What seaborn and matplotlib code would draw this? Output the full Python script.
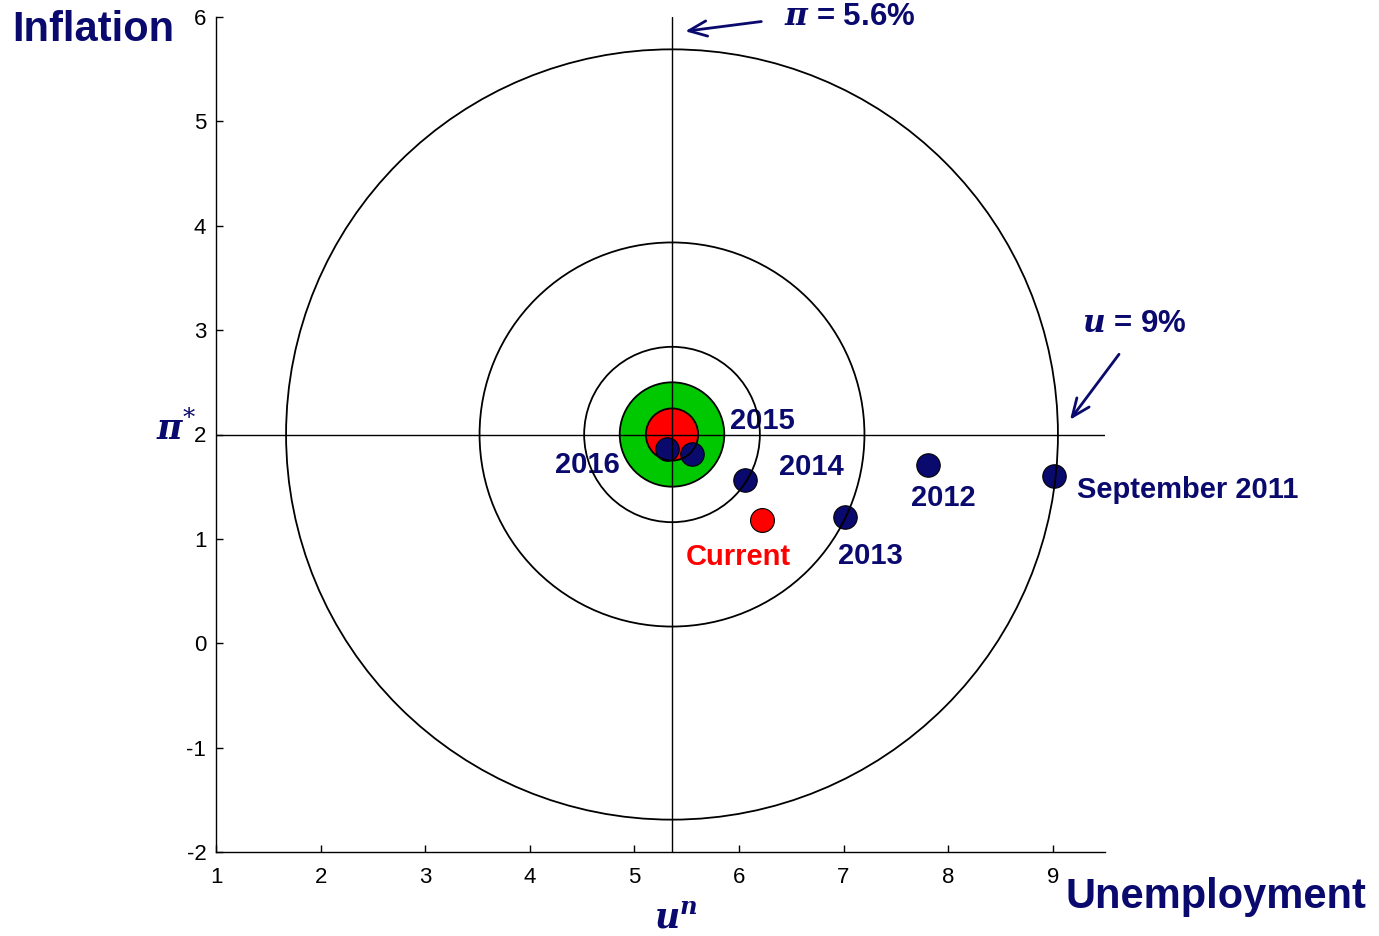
import matplotlib
matplotlib.use("Agg")
import matplotlib.pyplot as plt
from matplotlib.patches import Circle
import pandas as pd
import seaborn as sns

# target point: natural rate of unemployment and inflation target
U_STAR = 5.36
PI_STAR = 2.0

# black rings around the target, outer to inner
ring_radii = [3.69, 1.84, 0.84]
green_radius = 0.5
red_radius = 0.25

# projected path (unemployment %, inflation %)
years = ["September 2011", "2012", "2013", "2014", "2015", "2016"]
unemp = [9.01, 7.81, 7.01, 6.06, 5.55, 5.31]
infl = [1.60, 1.71, 1.21, 1.56, 1.81, 1.86]

# current reading
current_u = [6.22]
current_pi = [1.18]

x_ticks = [1, 2, 3, 4, 5, 6, 7, 8, 9]
y_ticks = [-2, -1, 0, 1, 2, 3, 4, 5, 6]

NAVY = "#0a0a6e"
GREEN = "#00c800"
RED = "#ff0000"

sns.set_style("ticks")
plt.rcParams["font.family"] = ["Liberation Sans", "DejaVu Sans"]
plt.rcParams["mathtext.fontset"] = "dejavuserif"
plt.rcParams["axes.unicode_minus"] = False

df = pd.DataFrame({"year": years, "u": unemp, "pi": infl})
cur = pd.DataFrame({"u": current_u, "pi": current_pi})

W, H = 1379, 936
fig = plt.figure(figsize=(W / 100, H / 100), dpi=100)
ax = fig.add_axes([216 / W, 84 / H, 889 / W, 835 / H])

# filled bullseye first, dots over it, then all outlines on top
ax.add_patch(Circle((U_STAR, PI_STAR), green_radius, fc=GREEN, ec="none", zorder=2))
ax.add_patch(Circle((U_STAR, PI_STAR), red_radius, fc=RED, ec="none", zorder=3))

sns.scatterplot(data=df, x="u", y="pi", s=285, color=NAVY, edgecolor="black",
                linewidth=0.8, ax=ax, zorder=4, legend=False)
sns.scatterplot(data=cur, x="u", y="pi", s=295, color=RED, edgecolor="black",
                linewidth=0.8, ax=ax, zorder=4, legend=False)

for r in ring_radii + [green_radius, red_radius]:
    ax.add_patch(Circle((U_STAR, PI_STAR), r, fill=False, ec="black", lw=1.3, zorder=5))

# crosshair
ax.axvline(U_STAR, color="black", lw=1, zorder=5)
ax.axhline(PI_STAR, color="black", lw=1, zorder=5)

# point labels (offsets from each point, data units)
offsets = {
    "September 2011": (1.28, -0.13),
    "2012": (0.14, -0.32),
    "2013": (0.25, -0.37),
    "2014": (0.63, 0.13),
    "2015": (0.67, 0.32),
    "2016": (-0.76, -0.15),
}
lab = dict(fontsize=21, fontweight="bold", ha="center", va="center")
for yr, u, p in zip(years, unemp, infl):
    dx, dy = offsets[yr]
    ax.text(u + dx, p + dy, yr, color=NAVY, clip_on=False, **lab)
ax.text(current_u[0] - 0.23, current_pi[0] - 0.35, "Current", color=RED, **lab)

# callouts
call = dict(fontsize=22.5, fontweight="bold", ha="center", va="center", color=NAVY,
            clip_on=False)
arrow = dict(arrowstyle="->,head_length=1.3,head_width=0.55", lw=2, color=NAVY)
ax.text(7.06, 6.0, r"$\mathbfit{\pi}$ = 5.6%", **call)
ax.annotate("", xy=(5.46, 5.86), xytext=(6.24, 5.96), annotation_clip=False,
            arrowprops=arrow)
ax.text(9.78, 3.06, r"$\mathbfit{u}$ = 9%", **call)
ax.annotate("", xy=(9.15, 2.12), xytext=(9.65, 2.79), annotation_clip=False,
            arrowprops=arrow)

ax.text(0.62, 2.05, r"$\mathbfit{\pi}^{*}$", color=NAVY, fontsize=25, ha="center",
        va="center", clip_on=False)
ax.text(5.40, -2.64, r"$\mathbfit{u}^{\mathbfit{n}}$", color=NAVY, fontsize=25, ha="center",
        va="center", clip_on=False)

fig.text(12 / W, 1 - 30 / H, "Inflation", color=NAVY, fontsize=30, fontweight="bold",
         ha="left", va="center")
fig.text(1066 / W, 1 - 897 / H, "Unemployment", color=NAVY, fontsize=30, fontweight="bold",
         ha="left", va="center")

ax.set_xlim(1, 9.5)
ax.set_ylim(-2, 6)
ax.set_xticks(x_ticks)
ax.set_yticks(y_ticks)
ax.set_xlabel("")
ax.set_ylabel("")
ax.tick_params(direction="in", length=5, width=1, labelsize=16, labelcolor="black",
               color="black")
ax.tick_params(axis="x", pad=11)
ax.tick_params(axis="y", pad=7)
sns.despine(ax=ax)
for s in ["left", "bottom"]:
    ax.spines[s].set_linewidth(1)
    ax.spines[s].set_color("black")

fig.savefig("out.png", dpi=100)
